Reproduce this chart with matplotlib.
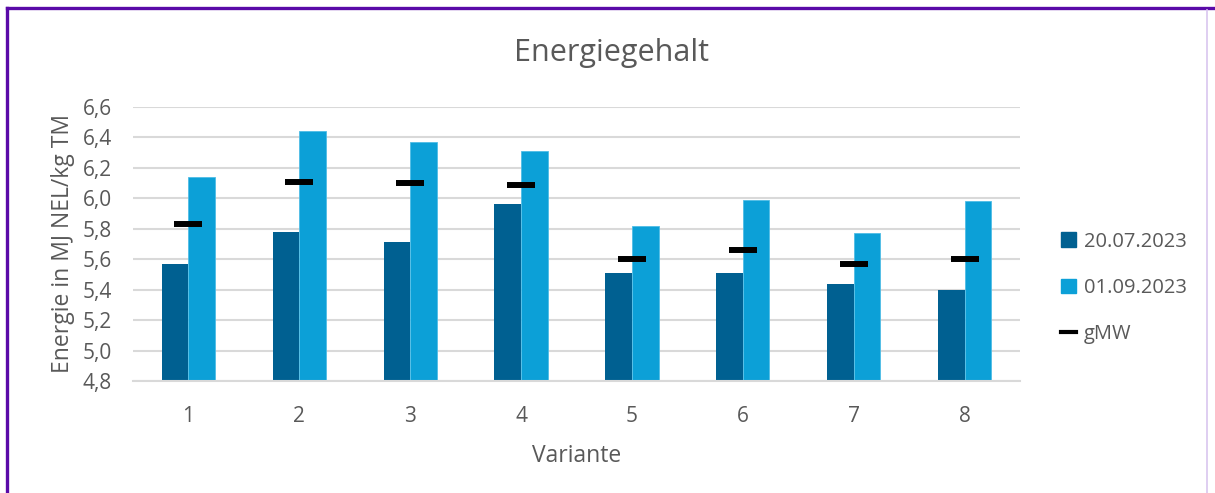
import matplotlib.pyplot as plt
import numpy as np
from matplotlib.lines import Line2D
from matplotlib.patches import Patch

plt.rcParams['font.family'] = ['Open Sans', 'DejaVu Sans']

# Daten
varianten = ['1', '2', '3', '4', '5', '6', '7', '8']
juli = [5.57, 5.78, 5.71, 5.96, 5.51, 5.51, 5.44, 5.40]
september = [6.14, 6.44, 6.37, 6.31, 5.82, 5.99, 5.77, 5.98]
gmw = [5.83, 6.11, 6.10, 6.09, 5.60, 5.66, 5.57, 5.60]
yticks = [4.8, 5.0, 5.2, 5.4, 5.6, 5.8, 6.0, 6.2, 6.4, 6.6]

dunkel = '#006091'
hell = '#0CA0D7'
grau = '#595959'

fig = plt.figure(figsize=(12.15, 4.93), dpi=100)
ax = fig.add_axes([0.1095, 0.2272, 0.7300, 0.5558])

x = np.arange(len(varianten))
b = 0.24
ax.bar(x - b / 2, juli, width=b, color=dunkel, zorder=2)
ax.bar(x + b / 2, september, width=b, color=hell, edgecolor='#4FBDE6', linewidth=0.6, zorder=2)
ax.plot(x, gmw, linestyle='none', marker='_', markersize=19.5, markeredgewidth=4.3,
        color='black', zorder=3)

ax.set_xlim(-0.5, len(varianten) - 0.5)
ax.set_ylim(4.8, 6.6)
ax.set_yticks(yticks)
ax.set_yticklabels([f'{v:.1f}'.replace('.', ',') for v in yticks])
ax.set_xticks(x)
ax.set_xticklabels(varianten)
ax.tick_params(length=0, labelsize=15, labelcolor=grau)
ax.tick_params(axis='x', pad=18)
ax.tick_params(axis='y', pad=15)
ax.grid(axis='y', color='#D9D9D9', linewidth=1.5, zorder=0)
ax.set_axisbelow(True)
for s in ['top', 'right', 'left']:
    ax.spines[s].set_visible(False)
ax.spines['bottom'].set_color('#D9D9D9')
ax.spines['bottom'].set_linewidth(1.5)

ax.set_xlabel('Variante', fontsize=16.5, color=grau, labelpad=12)
ax.set_ylabel('Energie in MJ NEL/kg TM', fontsize=16.5, color=grau, labelpad=6)
fig.text(0.5035, 0.893, 'Energiegehalt', fontsize=22, color=grau, ha='center', va='center')

handles = [Patch(color=dunkel), Patch(color=hell),
           Line2D([0], [0], color='black', linewidth=3)]
leg = fig.legend(handles, ['20.07.2023', '01.09.2023', 'gMW'], loc='center left',
                 bbox_to_anchor=(0.858, 0.416), frameon=False, fontsize=14.5,
                 handlelength=0.75, handleheight=0.75, handletextpad=0.4,
                 labelspacing=1.3, labelcolor=grau)

# Rahmen
lila = '#5A0AA8'
fig.add_artist(Line2D([0.0058, 0.0058], [0.0, 0.983], color=lila, linewidth=2.4))
fig.add_artist(Line2D([0.0058, 1.0], [0.983, 0.983], color=lila, linewidth=2.4))
fig.add_artist(Line2D([0.9938, 0.9938], [0.0, 0.98], color='#D9C6EF', linewidth=1.2))

fig.savefig('out.png', dpi=100)
